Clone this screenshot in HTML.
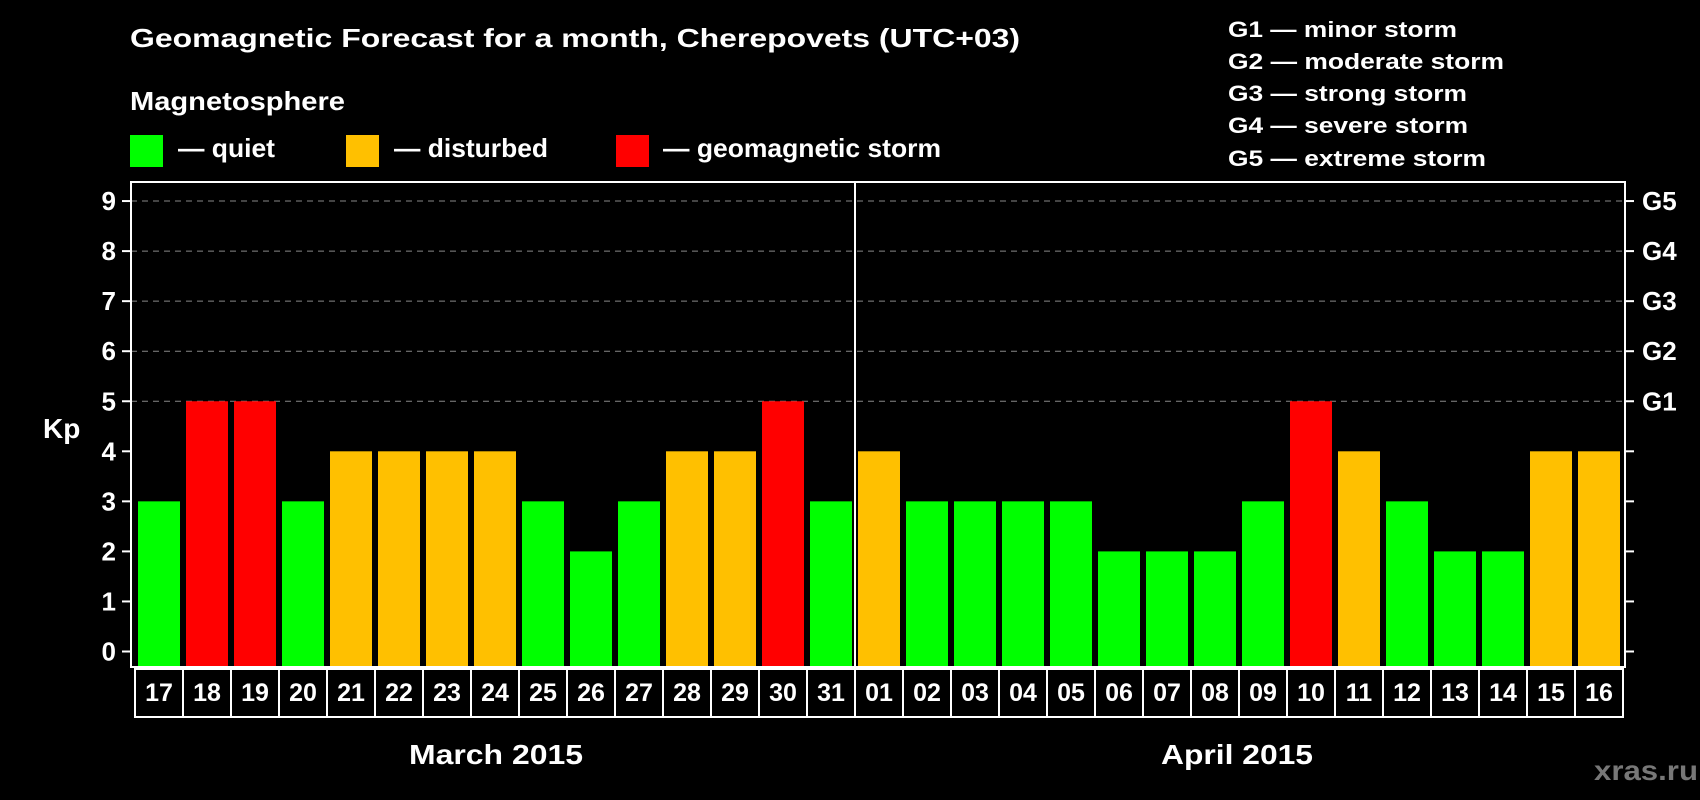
<!DOCTYPE html>
<html><head><meta charset="utf-8"><style>
html,body{margin:0;padding:0;background:#000;}
svg{display:block;font-family:"Liberation Sans",Arial,sans-serif;font-weight:bold;}
</style></head><body>
<svg id="chart" width="1700" height="800" viewBox="0 0 1700 800">
<rect x="0" y="0" width="1700" height="800" fill="#000"/>
<text x="130" y="47" fill="#fff" font-size="26" textLength="890" lengthAdjust="spacingAndGlyphs">Geomagnetic Forecast for a month, Cherepovets (UTC+03)</text>
<text x="130" y="110" fill="#fff" font-size="26" textLength="215" lengthAdjust="spacingAndGlyphs">Magnetosphere</text>
<rect x="130" y="135" width="33" height="32" fill="#00ff00"/>
<text x="178" y="157" fill="#fff" font-size="26" textLength="97" lengthAdjust="spacingAndGlyphs">— quiet</text>
<rect x="346" y="135" width="33" height="32" fill="#ffc000"/>
<text x="394" y="157" fill="#fff" font-size="26" textLength="154" lengthAdjust="spacingAndGlyphs">— disturbed</text>
<rect x="616" y="135" width="33" height="32" fill="#ff0000"/>
<text x="663" y="157" fill="#fff" font-size="26" textLength="278" lengthAdjust="spacingAndGlyphs">— geomagnetic storm</text>
<g font-size="22" fill="#fff">
<text x="1228" y="37" textLength="229" lengthAdjust="spacingAndGlyphs">G1 — minor storm</text>
<text x="1228" y="69" textLength="276" lengthAdjust="spacingAndGlyphs">G2 — moderate storm</text>
<text x="1228" y="101" textLength="239" lengthAdjust="spacingAndGlyphs">G3 — strong storm</text>
<text x="1228" y="133" textLength="240" lengthAdjust="spacingAndGlyphs">G4 — severe storm</text>
<text x="1228" y="166" textLength="258" lengthAdjust="spacingAndGlyphs">G5 — extreme storm</text>
</g>
<g id="grid"></g>
<g id="bars"></g>
<rect x="131" y="182" width="1494" height="485" fill="none" stroke="#fff" stroke-width="2"/>
<line x1="855" y1="182" x2="855" y2="667" stroke="#fff" stroke-width="2"/>
<g id="yaxis"></g>
<g id="xlabels"></g>
<text x="43" y="438" fill="#fff" font-size="28">Kp</text>
<text x="409" y="764" fill="#fff" font-size="28" textLength="174" lengthAdjust="spacingAndGlyphs">March 2015</text>
<text x="1161" y="764" fill="#fff" font-size="28" textLength="152" lengthAdjust="spacingAndGlyphs">April 2015</text>
<text x="1594" y="780" fill="#777" font-size="28" textLength="104" lengthAdjust="spacingAndGlyphs">xras.ru</text>
</svg>
<script>
const days = ["17","18","19","20","21","22","23","24","25","26","27","28","29","30","31","01","02","03","04","05","06","07","08","09","10","11","12","13","14","15","16"];
const kpValues = [3,5,5,3,4,4,4,4,3,2,3,4,4,5,3,4,3,3,3,3,2,2,2,3,5,4,3,2,2,4,4];
const yTicks = [0,1,2,3,4,5,6,7,8,9];
const gLevels = ["G1","G2","G3","G4","G5"];
const gKp = [5,6,7,8,9];

const NS = "http://www.w3.org/2000/svg";
const y0 = 651.5, unit = 50.05;
function yScale(v){ return y0 - v*unit; }
const x0 = 138, pitch = 48, barW = 42;
function xScale(i){ return x0 + i*pitch; }
function color(v){ return v>=5 ? "#ff0000" : (v==4 ? "#ffc000" : "#00ff00"); }
function mk(tag, attrs, parent){ const e=document.createElementNS(NS,tag); for(const k in attrs) e.setAttribute(k,attrs[k]); parent.appendChild(e); return e; }

const grid = document.getElementById("grid");
gKp.forEach((v,i)=>{
  const l = mk("line",{x1:131,x2:1625,y1:yScale(v),y2:yScale(v),stroke:"#888","stroke-width":1,"stroke-dasharray":"6 5"},grid);
  
  
});

const bars = document.getElementById("bars");
kpValues.forEach((v,i)=>{
  const r = mk("rect",{x:xScale(i),y:yScale(v),width:barW,height:667-yScale(v),fill:color(v)},bars);
  
  
});

const ya = document.getElementById("yaxis");
yTicks.forEach(v=>{
  const y = yScale(v);
  const t1 = mk("line",{x1:122,x2:131,y1:y,y2:y,stroke:"#fff","stroke-width":2},ya);
  
  
  const t2 = mk("line",{x1:1625,x2:1634,y1:y,y2:y,stroke:"#fff","stroke-width":2},ya);
  
  
  const tx = mk("text",{x:116,y:y+9,fill:"#fff","font-size":26,"text-anchor":"end"},ya);
  tx.textContent = v;
  
  
});
gLevels.forEach((g,i)=>{
  const tx = mk("text",{x:1642,y:yScale(gKp[i])+9,fill:"#fff","font-size":26},ya);
  tx.textContent = g;
  
  
});

const xl = document.getElementById("xlabels");
const box = mk("rect",{x:135,y:669,width:1488,height:48,fill:"none",stroke:"#fff","stroke-width":2},xl);


days.forEach((d,i)=>{
  if(i>0){
    const s = mk("line",{x1:135+i*pitch,x2:135+i*pitch,y1:669,y2:717,stroke:"#fff","stroke-width":2},xl);
    
    
  }
  const t = mk("text",{x:xScale(i)+barW/2,y:701,fill:"#fff","font-size":25,"text-anchor":"middle"},xl);
  t.textContent = d;
  
  
});
</script>
</body></html>
